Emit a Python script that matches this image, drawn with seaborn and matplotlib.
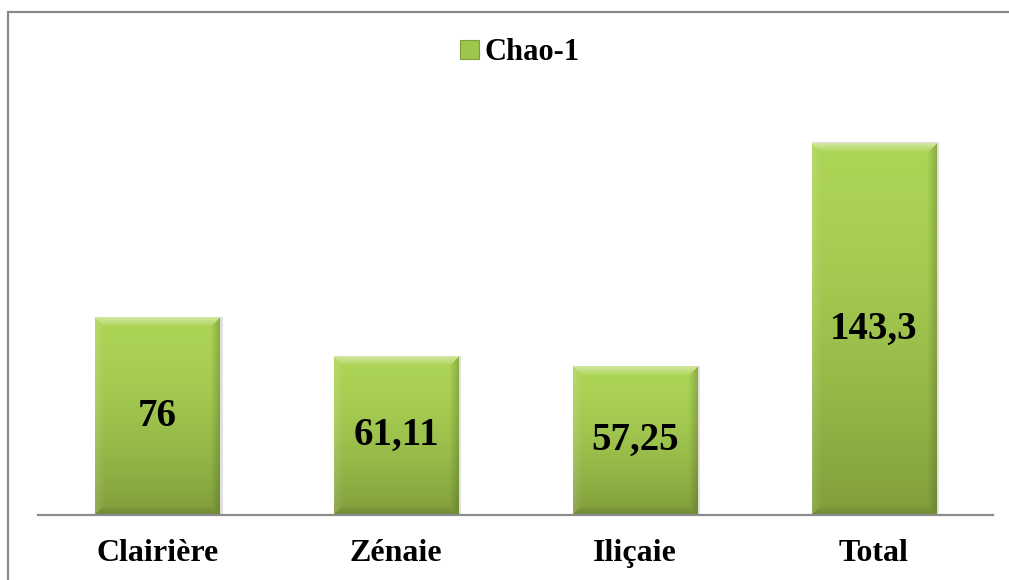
import numpy as np
import pandas as pd
import matplotlib
matplotlib.use("Agg")
import matplotlib.pyplot as plt
import matplotlib.patches as mpatches
from matplotlib.colors import to_rgb
import seaborn as sns

# Chao-1 richness estimates per habitat
categories = ["Clairière", "Zénaie", "Iliçaie", "Total"]
chao1 = [76, 61.11, 57.25, 143.3]
value_labels = ["76", "61,11", "57,25", "143,3"]
series_name = "Chao-1"

sns.set_theme(style="white")
plt.rcParams["font.family"] = ["Liberation Serif", "DejaVu Serif"]
plt.rcParams["font.weight"] = "bold"

df = pd.DataFrame({"cat": categories, "val": chao1})

fig = plt.figure(figsize=(10.09, 5.80), dpi=100)
ax = fig.add_axes([38 / 1009, 65 / 580, (993 - 38) / 1009, 415 / 580])

sns.barplot(data=df, x="cat", y="val", ax=ax, width=0.52,
            color="#a6cf52", saturation=1, edgecolor="none")
ax.set_ylim(0, 160)
ax.set_xlim(-0.5, len(categories) - 0.5)

for s in ["top", "left", "right"]:
    ax.spines[s].set_visible(False)
ax.spines["bottom"].set_color("#8c8c8c")
ax.spines["bottom"].set_linewidth(1.6)
ax.set_yticks([])
ax.set_xlabel("")
ax.set_ylabel("")
ax.tick_params(axis="x", length=0, pad=17)
for t in ax.get_xticklabels():
    t.set_fontsize(23)
    t.set_fontweight("bold")
    t.set_color("black")

top_c = np.array(to_rgb("#acd455"))
bot_c = np.array(to_rgb("#809e3c"))


def bevel_image(hp, wp, b=9):
    i = np.arange(hp)[:, None] * np.ones((1, wp))
    j = np.ones((hp, 1)) * np.arange(wp)[None, :]
    f = ((i / max(hp - 1, 1)) ** 1.6)[..., None]
    img = top_c * (1 - f) + bot_c * f
    dt, db = i, hp - 1 - i
    dl, dr = j, wp - 1 - j
    d = np.stack([dt, db, dl, dr])
    m = d.min(axis=0)
    side = d.argmin(axis=0)
    inb = m < b
    light = np.array([1.0, 1.0, 1.0])
    dark = np.array([0.25, 0.32, 0.1])
    w = (1 - m / b)[..., None]
    out = img.copy()
    # top edge highlight
    sel = inb & (side == 0)
    out[sel] = (img * (1 - 0.45 * w) + light * 0.45 * w)[sel]
    # left edge slight highlight
    sel = inb & (side == 2)
    out[sel] = (img * (1 - 0.12 * w) + light * 0.12 * w)[sel]
    # right and bottom edges darker
    sel = inb & ((side == 3) | (side == 1))
    out[sel] = (img * (1 - 0.3 * w) + dark * 0.3 * w)[sel]
    return np.clip(out, 0, 1)


fig.canvas.draw()
for p, lab in zip(ax.patches, value_labels):
    x0, y0 = p.get_x(), p.get_y()
    w, h = p.get_width(), p.get_height()
    (px0, py0) = ax.transData.transform((x0, y0))
    (px1, py1) = ax.transData.transform((x0 + w, y0 + h))
    wp, hp = int(round(px1 - px0)), int(round(py1 - py0))
    # soft shadow on the right side
    ax.add_patch(mpatches.Rectangle((x0 + w * 0.005, y0), w * 1.02, h * 1.003,
                                    facecolor="#000000", alpha=0.12,
                                    edgecolor="none", zorder=1.5))
    p.set_facecolor("none")
    ax.imshow(bevel_image(hp, wp), extent=(x0, x0 + w, y0, y0 + h),
              aspect="auto", origin="upper", zorder=2, interpolation="bilinear")
    ax.text(x0 + w / 2, y0 + h / 2, lab, ha="center", va="center",
            fontsize=28, fontweight="bold", color="black", zorder=3)

ax.set_xlim(-0.5, len(categories) - 0.5)
ax.set_ylim(0, 160)

handle = mpatches.Patch(facecolor="#9cc64c", edgecolor="#7f9d3b", linewidth=0.8)
leg = fig.legend([handle], [series_name], loc="center",
                 bbox_to_anchor=(520 / 1009, 1 - 53 / 580),
                 frameon=False, handlelength=0.6, handleheight=0.6, handletextpad=0.2,
                 prop={"family": "Liberation Serif", "weight": "bold", "size": 22})
for t in leg.get_texts():
    t.set_color("black")

# outer chart border
fig.add_artist(mpatches.Rectangle((8 / 1009, -0.01), 1.02, 1 - 12 / 580 + 0.01,
                                  transform=fig.transFigure, fill=False,
                                  edgecolor="#8a8a8a", linewidth=1.6))

fig.savefig("out.png", dpi=100, facecolor="white")
